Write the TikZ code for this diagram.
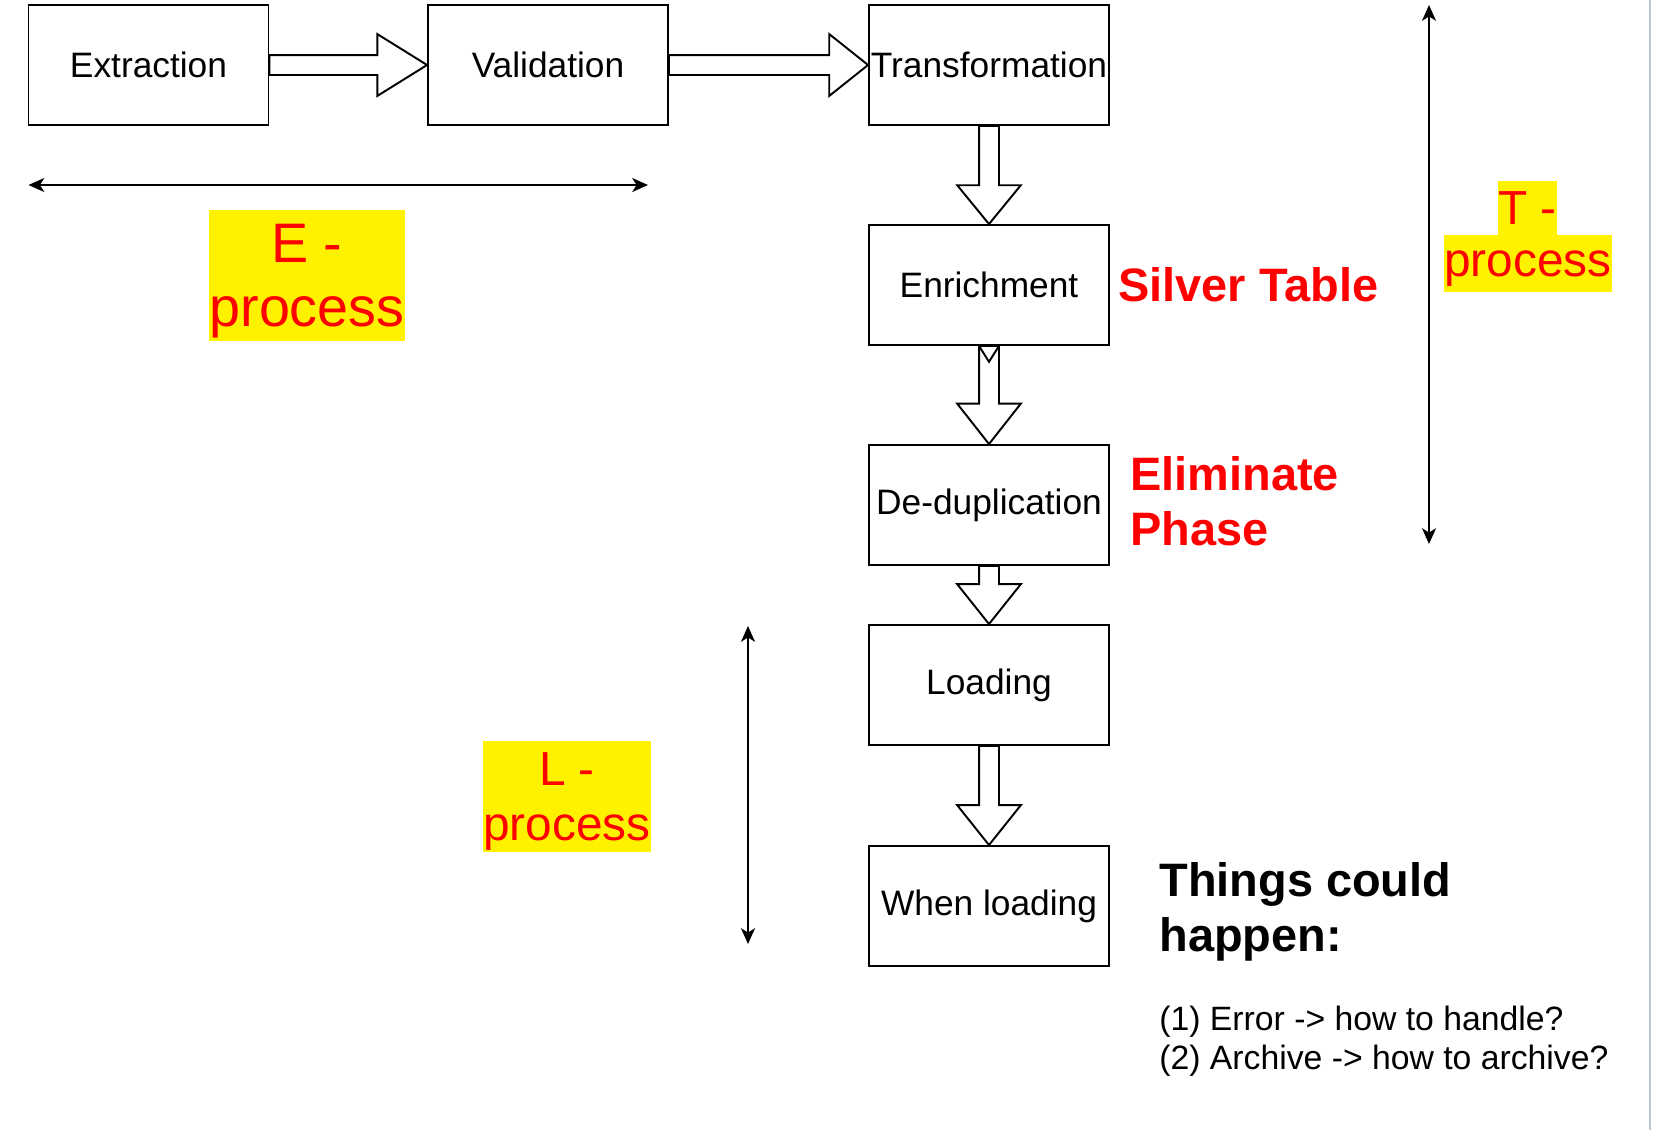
\documentclass[tikz,border=0pt]{standalone}
\usepackage{fontspec}
\setmainfont{Liberation Sans}
\usetikzlibrary{arrows.meta,calc}
\newcommand{\fs}[2]{\fontsize{#1}{#2}\selectfont}
\newcommand{\hblk}[3]{%
  \draw[blk] let \p1=(#1.east), \p2=(#2.west) in
  (\x1,\y1+5.67pt) -- (\x2-#3,\y1+5.67pt) -- (\x2-#3,\y1+17.6pt) -- (\x2,\y1)
  -- (\x2-#3,\y1-17.6pt) -- (\x2-#3,\y1-5.67pt) -- (\x1,\y1-5.67pt) -- cycle;}
\newcommand{\vblk}[3]{%
  \draw[blk] let \p1=(#1.south), \p2=(#2.north) in
  (\x1-5.67pt,\y1) -- (\x1-5.67pt,\y2+#3) -- (\x1-18.1pt,\y2+#3) -- (\x1,\y2)
  -- (\x1+18.1pt,\y2+#3) -- (\x1+5.67pt,\y2+#3) -- (\x1+5.67pt,\y1) -- cycle;}
\begin{document}
\begin{tikzpicture}[x=0.02cm,y=-0.02cm,
  box/.style={draw=black,line width=1.1pt,fill=white,minimum width=4.8cm,minimum height=2.4cm,inner sep=0pt,font=\fs{20.1}{24}},
  blk/.style={draw=black,line width=1.1pt,fill=white,line join=miter},
  dbl/.style={line width=1.1pt,{Stealth[length=9pt,width=8pt,inset=2.5pt]}-{Stealth[length=9pt,width=8pt,inset=2.5pt]}},
  redb/.style={text=red,font=\bfseries\fs{26.7}{31.2},align=left,inner sep=0pt},
  hl/.style={fill=yellow,text=red,inner sep=0pt,align=center,text depth=0pt},
]
\useasboundingbox (0,0) rectangle (1656,1130);
\fill[white] (0,0) rectangle (1656,1130);
\draw[color={rgb,255:red,190;green,198;blue,208},line width=1.6pt] (1650,0) -- (1650,1130);

% boxes
\node[box] (ext) at (148.5,65) {Extraction};
\node[box] (val) at (548,65) {Validation};
\node[box] (tra) at (989,65) {Transformation};
\node[box] (enr) at (989,285) {Enrichment};
\node[box] (ded) at (989,505) {De-duplication};
\node[box] (loa) at (989,685) {Loading};
\node[box] (whe) at (989,906) {When loading};

% block arrows
\hblk{ext}{val}{28.3pt}
\hblk{val}{tra}{22.1pt}
\vblk{tra}{enr}{22.1pt}
\vblk{enr}{ded}{23pt}
\draw[line width=1.1pt] let \p1=(enr.south) in (\x1-5.67pt,\y1) -- (\x1,\y1-9pt) -- (\x1+5.67pt,\y1);
\vblk{ded}{loa}{22.7pt}
\vblk{loa}{whe}{22.7pt}

% E-process
\coordinate (e1) at (28.5,185);
\coordinate (e2) at (648,185);
\draw[dbl] (e1) -- (e2);
\node[hl,minimum width=196*0.02cm,minimum height=131*0.02cm,font=\fs{31.7}{36.5}] (elab) at (307,275.5) {E -\\process};

% T-process
\coordinate (t1) at (1429,5);
\coordinate (t2) at (1429,544);
\draw[dbl] (t1) -- (t2);
\node[hl,minimum width=55*0.02cm,minimum height=54*0.02cm,font=\fs{27.2}{31}] (tlab1) at (1527.5,208) {T -};
\node[hl,minimum width=168*0.02cm,minimum height=57*0.02cm,font=\fs{27.2}{31}] (tlab2) at (1528,263.5) {process};

% L-process
\coordinate (l1) at (748,626);
\coordinate (l2) at (748,944);
\draw[dbl] (l1) -- (l2);
\node[hl,minimum width=168*0.02cm,minimum height=111*0.02cm,font=\fs{27.2}{31}] (llab) at (567,796.5) {L -\\process};

% side labels
\node[redb,anchor=west] (silver) at (1118,285) {Silver Table};
\node[redb,anchor=west] (elim) at (1130,501) {Eliminate\\Phase};
\node[anchor=west,align=left,inner sep=0pt,font=\bfseries\fs{26.7}{31.2}] (things) at (1159,912) {Things could\\happen:};
\node[anchor=west,align=left,inner sep=0pt,font=\fs{19.2}{22.1}] (notes) at (1159,1041) {(1) Error -> how to handle?\\(2) Archive -> how to archive?};
\end{tikzpicture}
\end{document}
